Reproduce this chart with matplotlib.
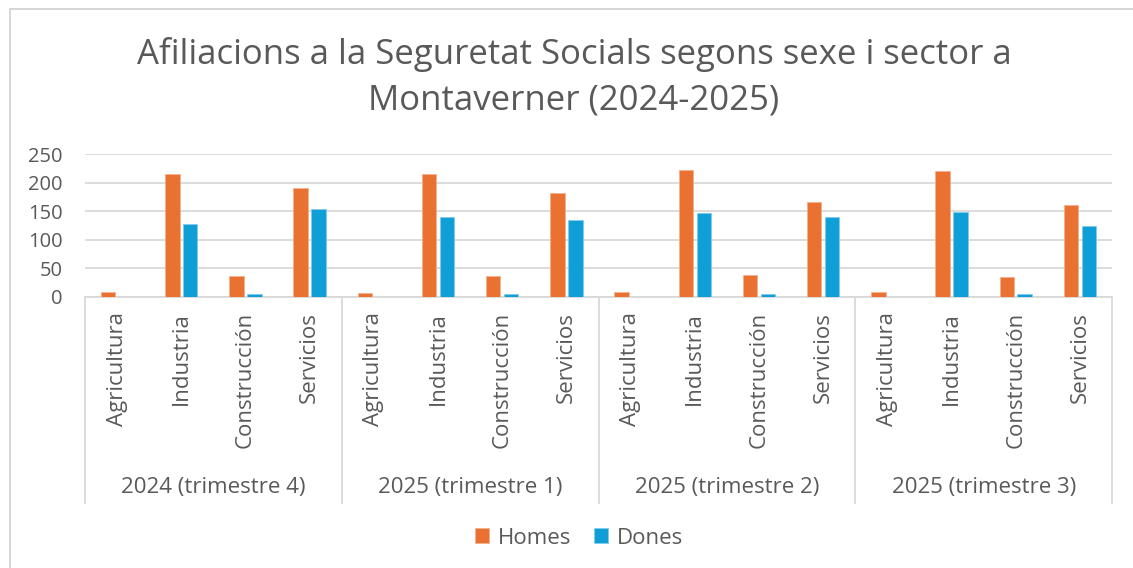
import matplotlib.pyplot as plt
from matplotlib.patches import Rectangle
import numpy as np

plt.rcParams['font.family'] = ['Open Sans', 'DejaVu Sans']

title = "Afiliacions a la Seguretat Socials segons sexe i sector a\nMontaverner (2024-2025)"
periods = ["2024 (trimestre 4)", "2025 (trimestre 1)", "2025 (trimestre 2)", "2025 (trimestre 3)"]
sectors = ["Agricultura", "Industria", "Construcción", "Servicios"]

homes = [8, 215, 37, 190,
         7, 215, 37, 181,
         8, 222, 38, 166,
         9, 221, 35, 160]
dones = [0, 128, 5, 154,
         0, 139, 5, 134,
         0, 147, 5, 140,
         0, 148, 5, 125]

orange = "#E97132"
blue = "#0F9ED5"
grey_txt = "#595959"
grey_line = "#D9D9D9"

W, H = 1133, 568
fig = plt.figure(figsize=(W / 100, H / 100), dpi=100)

# chart border
fig.patches.append(Rectangle((10 / W, -0.1), 1.2, 1 - 9 / H + 0.1, transform=fig.transFigure,
                             fill=False, edgecolor="#D0D0D0", lw=1.2))

ax = fig.add_axes([85 / W, (H - 297) / H, (1112 - 85) / W, 143 / H])

x = np.arange(len(homes))
bw = 0.225
ax.bar(x - 0.14, homes, bw, color=orange, edgecolor="#F5B08C", lw=0.6, label="Homes", zorder=3)
ax.bar(x + 0.14, dones, bw, color=blue, edgecolor="#7FCDEA", lw=0.6, label="Dones", zorder=3)

ax.set_xlim(-0.5, len(homes) - 0.5)
ax.set_ylim(0, 250)
ax.set_yticks([0, 50, 100, 150, 200, 250])
ax.yaxis.grid(True, color=grey_line, lw=1.3, zorder=0)
ax.tick_params(axis="y", length=0, pad=16, labelsize=14.5, labelcolor=grey_txt)
ax.set_xticks([])
for s in ["top", "right", "left"]:
    ax.spines[s].set_visible(False)
ax.spines["bottom"].set_color(grey_line)
ax.spines["bottom"].set_linewidth(1.3)

tr = ax.get_xaxis_transform()
# category labels
for i in range(len(homes)):
    ax.text(i, -0.105, sectors[i % 4], rotation=90, ha="center", va="top",
            fontsize=16, color=grey_txt, transform=tr, clip_on=False)
# group labels and separators
for g, p in enumerate(periods):
    ax.text(4 * g + 1.5, -1.33, p, ha="center", va="center", fontsize=16,
            color=grey_txt, transform=tr, clip_on=False)
for b in [-0.5, 3.5, 7.5, 11.5, 15.5]:
    ax.plot([b, b], [0, -1.44], color=grey_line, lw=1.3, transform=tr, clip_on=False)

fig.text(574 / W, 1 - 77 / H, title, ha="center", va="center", fontsize=25,
         color=grey_txt, linespacing=1.45)

fig.legend(loc="center", bbox_to_anchor=(579 / W, 1 - 538 / H), ncol=2, frameon=False,
           fontsize=16, labelcolor=grey_txt, handlelength=0.65, handleheight=0.65,
           handletextpad=0.4, columnspacing=1.0)

fig.savefig("out.png", dpi=100)
